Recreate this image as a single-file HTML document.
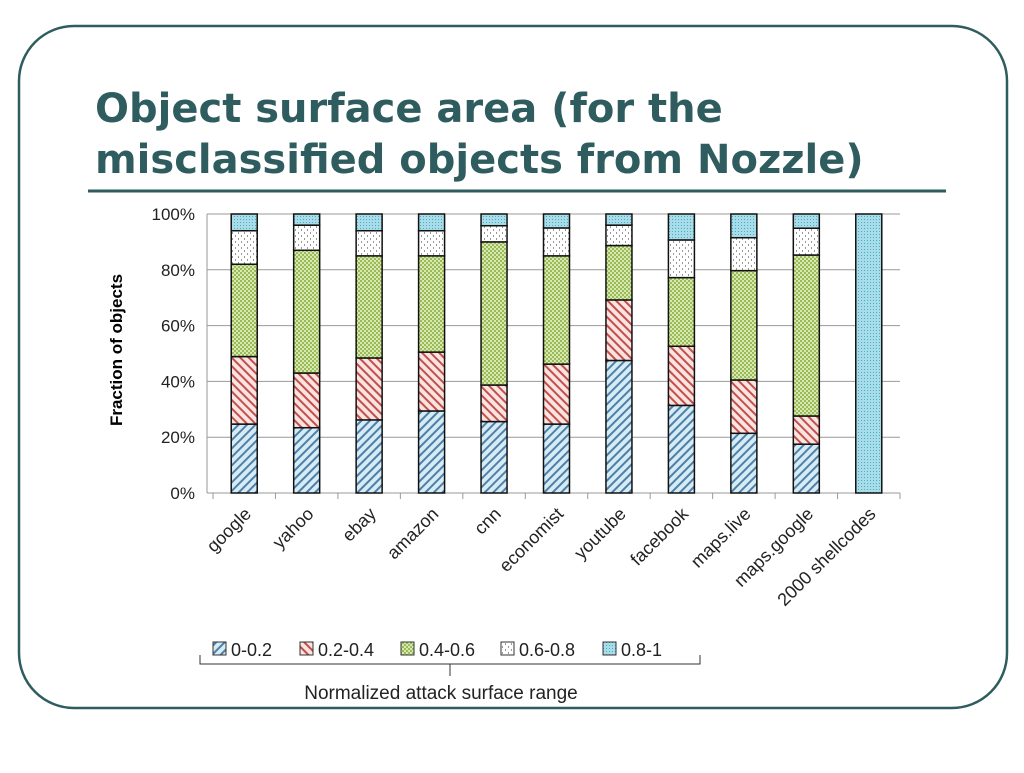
<!DOCTYPE html>
<html><head><meta charset="utf-8"><style>
body{margin:0;width:1024px;height:768px;background:#fff;overflow:hidden;font-family:"Liberation Sans",sans-serif}
</style></head><body>
<svg width="1024" height="768">
<defs>
<pattern id="p0" width="6" height="6" patternUnits="userSpaceOnUse" patternTransform="rotate(45)"><rect width="6" height="6" fill="#d6ecf5"/><rect width="2" height="6" fill="#4f7fa8"/></pattern>
<pattern id="p1" width="6" height="6" patternUnits="userSpaceOnUse" patternTransform="rotate(-45)"><rect width="6" height="6" fill="#fbe3e0"/><rect width="2" height="6" fill="#c0504d"/></pattern>
<pattern id="p2" width="4" height="4" patternUnits="userSpaceOnUse"><rect width="4" height="4" fill="#d7e8b0"/><rect width="2" height="2" fill="#9bbb59"/><rect x="2" y="2" width="2" height="2" fill="#9bbb59"/></pattern>
<pattern id="p3" width="6" height="6" patternUnits="userSpaceOnUse"><rect width="6" height="6" fill="#fff"/><rect x="1" y="1" width="1" height="2" fill="#999"/><rect x="4" y="4" width="1" height="2" fill="#999"/></pattern>
<pattern id="p4" width="3" height="3" patternUnits="userSpaceOnUse"><rect width="3" height="3" fill="#a8dce8"/><rect width="1" height="1" fill="#4bacc6"/></pattern>
</defs>
<rect x="19" y="26" width="988" height="682" rx="55" fill="none" stroke="#2f5d5f" stroke-width="2.5"/>
<text x="95" y="122" font-size="40" font-weight="bold" fill="#2f5d5f" font-family="DejaVu Sans, sans-serif">Object surface area (for the</text>
<text x="95" y="173" font-size="40" font-weight="bold" fill="#2f5d5f" font-family="DejaVu Sans, sans-serif">misclassified objects from Nozzle)</text>
<line x1="88" y1="191" x2="946" y2="191" stroke="#2f5d5f" stroke-width="3"/>
<g id="chart"></g>
<text transform="translate(122,350) rotate(-90)" text-anchor="middle" font-size="17" font-weight="bold" fill="#000">Fraction of objects</text>
<g id="legend"></g>
<path d="M200,655 V664 H700 V655 M450,664 V676" fill="none" stroke="#333" stroke-width="1"/>
<text x="441" y="699" text-anchor="middle" font-size="19" fill="#222">Normalized attack surface range</text>
</svg>
<script>
const categories=["google","yahoo","ebay","amazon","cnn","economist","youtube","facebook","maps.live","maps.google","2000 shellcodes"];
const s0=[24.7,23.4,26.2,29.4,25.6,24.7,47.5,31.4,21.4,17.5,0];
const s1=[24.2,19.6,22.2,21.1,13.1,21.5,21.7,21.2,19.1,10.1,0];
const s2=[33.1,44,36.6,34.5,51.3,38.8,19.5,24.6,39.2,57.7,0];
const s3=[12,9,9,9,5.8,10,7.3,13.5,11.8,9.6,0];
const s4=[6,4,6,6,4.2,5,4,9.3,8.5,5.1,100];
const yTicks=[0,20,40,60,80,100];
const seriesNames=["0-0.2","0.2-0.4","0.4-0.6","0.6-0.8","0.8-1"];
const series=[s0,s1,s2,s3,s4];
const NS="http://www.w3.org/2000/svg";
const gx0=207,x0=213,x1=900,yb=493,yt=214;
const y=v=>yb-(v/100)*(yb-yt);
const step=(x1-x0)/categories.length;
const xc=i=>x0+step*(i+0.5);
const g=document.getElementById('chart');
function mk(t,a,p){const e=document.createElementNS(NS,t);for(const k in a)e.setAttribute(k,a[k]);(p||g).appendChild(e);return e;}
yTicks.forEach(t=>{
 const l=mk('line',{x1:gx0,x2:x1,y1:y(t),y2:y(t),stroke:'#999','stroke-width':1});
 
 
 const tx=mk('text',{x:195,y:y(t)+6,'text-anchor':'end','font-size':17,fill:'#222'});
 tx.textContent=t+'%';
 
 
});
mk('line',{x1:gx0,x2:gx0,y1:yt,y2:yb,stroke:'#999'});
for(let i=0;i<=categories.length;i++){mk('line',{x1:x0+step*i,x2:x0+step*i,y1:yb,y2:yb+6,stroke:'#999'});}
categories.forEach((c,i)=>{
 let acc=0;
 series.forEach((s,k)=>{
  if(s[i]<=0)return;
  const r=mk('rect',{x:xc(i)-13,y:y(acc+s[i]),width:26,height:y(acc)-y(acc+s[i]),fill:'url(#p'+k+')',stroke:'#111','stroke-width':1.5});
  
  
  acc+=s[i];
 });
 const tx=mk('text',{transform:`translate(${xc(i)+8},${yb+22}) rotate(-45)`,'text-anchor':'end','font-size':18,fill:'#222'});
 tx.textContent=c;
 
 
});
const lg=document.getElementById('legend');
const lx=[213,300,401,501,603];
seriesNames.forEach((n,k)=>{
 const r=mk('rect',{x:lx[k],y:642,width:13,height:13,fill:'url(#p'+k+')',stroke:'#333'},lg);
 
 
 const t=mk('text',{x:lx[k]+18,y:656,'font-size':18,fill:'#222'},lg);
 t.textContent=n;
 
 
});
</script>
</body></html>
